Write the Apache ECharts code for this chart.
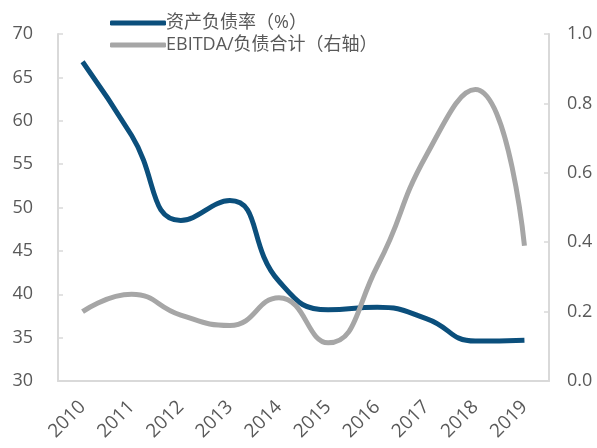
<!DOCTYPE html>
<html>
<head>
<meta charset="utf-8">
<script src="https://cdn.jsdelivr.net/npm/echarts@6/dist/echarts.min.js"></script>
<style>
  html, body { margin: 0; padding: 0; background: #fff; }
  #main { width: 597px; height: 448px; }
</style>
</head>
<body>
<div id="main"></div>
<script>
// 年份
const years = ['2010', '2011', '2012', '2013', '2014', '2015', '2016', '2017', '2018', '2019']
// 资产负债率（%），左轴
const debtRatio = [66.8, 58.3, 48.5, 50.8, 41.5, 38.2, 38.5, 37.2, 34.6, 34.7]
// EBITDA/负债合计，右轴
const ebitdaDebt = [0.20, 0.25, 0.19, 0.16, 0.24, 0.11, 0.33, 0.65, 0.84, 0.39]

const font = "'Open Sans', 'Noto Sans CJK SC', sans-serif"
const axisGray = '#D9D9D9'

let myChart = echarts.init(document.getElementById('main'))
myChart.setOption({
    animation: false,
    textStyle: { fontFamily: font },
    legend: {
        orient: 'vertical',
        left: 105,
        top: 9,
        itemWidth: 56,
        itemHeight: 5,
        itemGap: 4,
        icon: 'roundRect',
        textStyle: { fontSize: 18, color: '#595959', fontFamily: font, padding: [0, 0, 0, -5] },
        data: ['资产负债率（%）', 'EBITDA/负债合计（右轴）']
    },
    grid: { left: 58, right: 48, top: 34, bottom: 67 },
    xAxis: {
        type: 'category',
        data: years,
        boundaryGap: true,
        axisLine: { lineStyle: { color: axisGray, width: 2 } },
        axisTick: { inside: true, length: 5, lineStyle: { color: axisGray, width: 1.5 } },
        axisLabel: { rotate: 45, fontSize: 19, color: '#595959', margin: 23 }
    },
    yAxis: [{
        type: 'value',
        min: 30, max: 70, interval: 5,
        splitLine: { show: false },
        axisLine: { show: true, lineStyle: { color: axisGray, width: 2 } },
        axisTick: { show: true, inside: true, length: 5, lineStyle: { color: axisGray, width: 1.5 } },
        axisLabel: { fontSize: 18, color: '#595959', margin: 25 }
    }, {
        type: 'value',
        min: 0, max: 1, interval: 0.2,
        splitLine: { show: false },
        axisLine: { show: true, lineStyle: { color: axisGray, width: 2 } },
        axisTick: { show: true, inside: true, length: 5, lineStyle: { color: axisGray, width: 1.5 } },
        axisLabel: { fontSize: 18, color: '#595959', margin: 18, formatter: v => v.toFixed(1) }
    }],
    series: [{
        name: '资产负债率（%）',
        type: 'line',
        data: debtRatio,
        smooth: true,
        symbol: 'none',
        lineStyle: { color: '#0B4F7C', width: 5 },
        itemStyle: { color: '#0B4F7C' }
    }, {
        name: 'EBITDA/负债合计（右轴）',
        type: 'line',
        yAxisIndex: 1,
        data: ebitdaDebt,
        smooth: true,
        symbol: 'none',
        lineStyle: { color: '#A6A6A6', width: 5 },
        itemStyle: { color: '#A6A6A6' }
    }]
})
window.addEventListener('resize', myChart.resize)
</script>
</body>
</html>
